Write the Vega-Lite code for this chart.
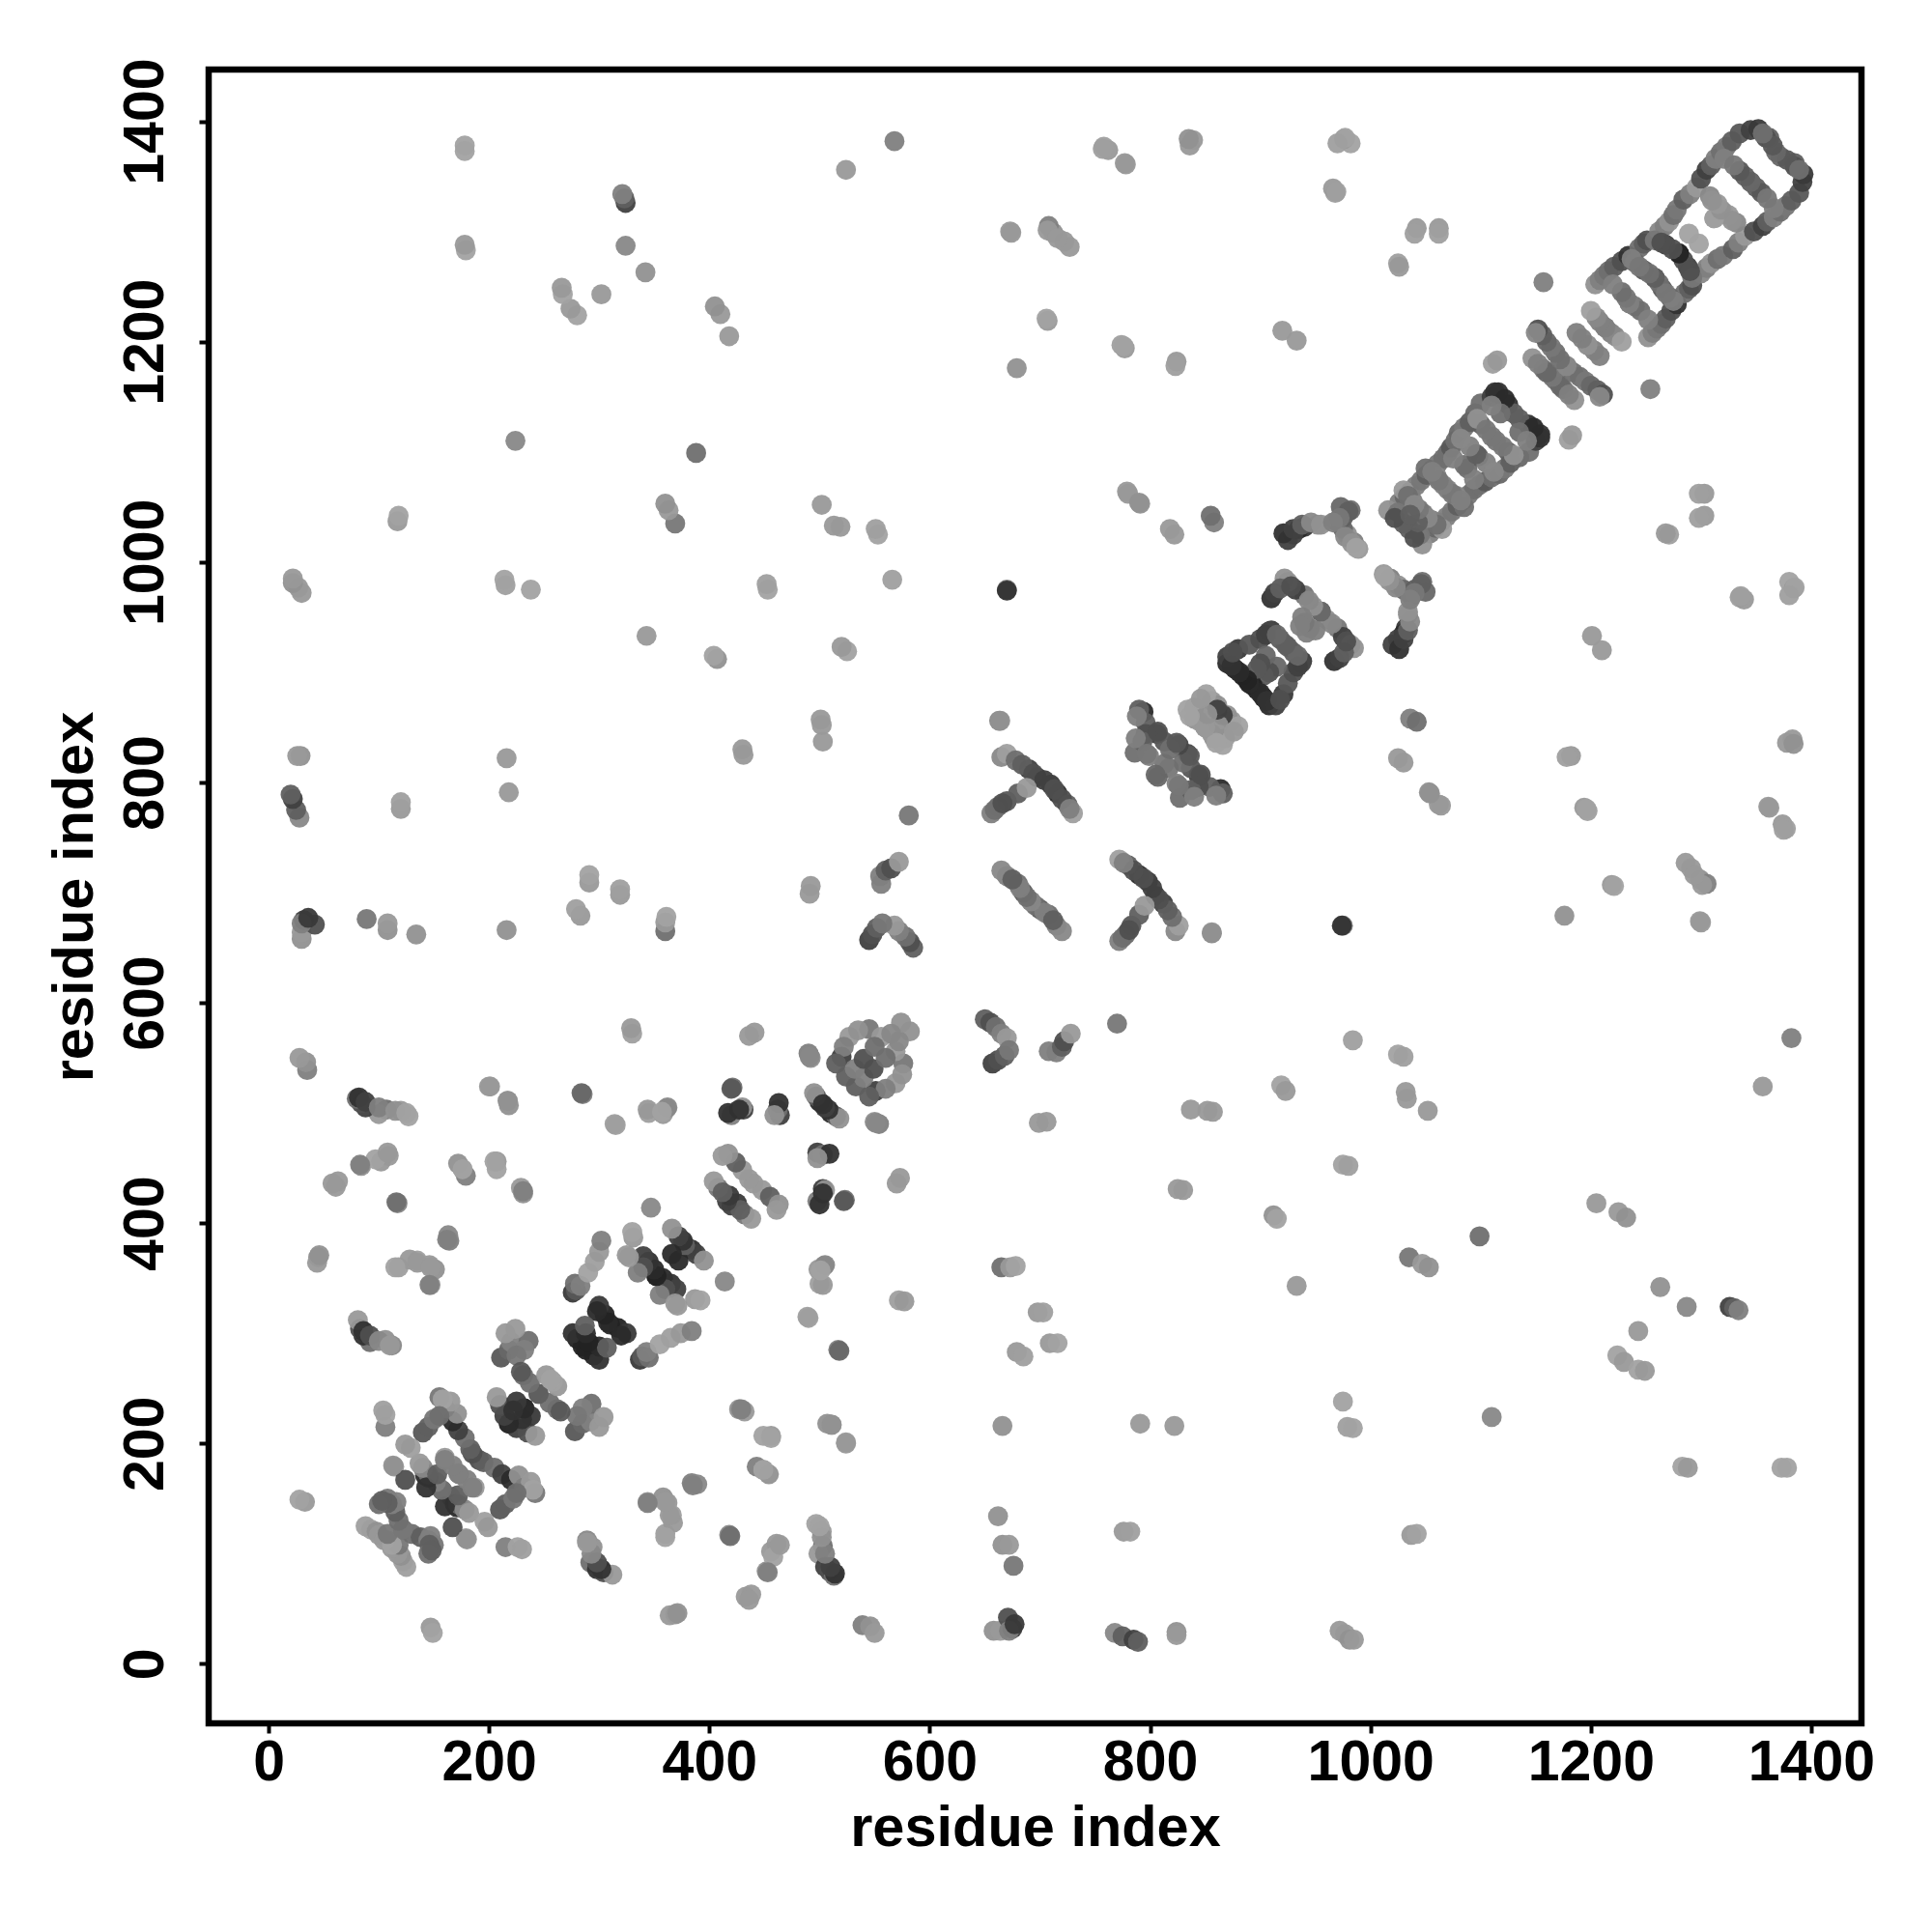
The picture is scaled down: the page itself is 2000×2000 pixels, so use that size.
{"$schema":"https://vega.github.io/schema/vega-lite/v6.json","autosize":{"type":"none"},"padding":{"left":216,"top":72,"right":73,"bottom":216},"width":1711,"height":1712,"background":"white","view":{"stroke":"#000","strokeWidth":6.5,"fill":"white"},
"data":{"values":[
{"a":1378,"b":178,"s":0.1},{"a":1373,"b":178,"s":0.1},{"a":1283,"b":179,"s":0.1},{"a":1288,"b":178,"s":0.15},{"a":1382,"b":568,"s":0.3},{"a":1356,"b":524,"s":0.15},{"a":1326,"b":324,"s":0.7},{"a":1330,"b":323,"s":0.5},{"a":1334,"b":321,"s":0.3},{"a":1287,"b":324,"s":0.25},{"a":1243,"b":302,"s":0.15},{"a":1224,"b":280,"s":0.1},{"a":1230,"b":274,"s":0.15},{"a":1243,"b":267,"s":0.1},{"a":1249,"b":266,"s":0.15},{"a":1263,"b":342,"s":0.2},{"a":1205,"b":418,"s":0.15},{"a":1225,"b":410,"s":0.15},{"a":1232,"b":405,"s":0.2},{"a":1099,"b":388,"s":0.4},{"a":1035,"b":369,"s":0.35},{"a":1047,"b":363,"s":0.15},{"a":1053,"b":360,"s":0.2},{"a":933,"b":343,"s":0.15},{"a":912,"b":407,"s":0.2},{"a":915,"b":404,"s":0.1},{"a":975,"b":453,"s":0.1},{"a":980,"b":452,"s":0.12},{"a":1032,"b":519,"s":0.15},{"a":1033,"b":513,"s":0.15},{"a":1052,"b":502,"s":0.15},{"a":1025,"b":553,"s":0.1},{"a":1030,"b":551,"s":0.12},{"a":984,"b":566,"s":0.12},{"a":919,"b":525,"s":0.1},{"a":923,"b":520,"s":0.15},{"a":975,"b":238,"s":0.1},{"a":979,"b":215,"s":0.12},{"a":984,"b":214,"s":0.1},{"a":1110,"b":224,"s":0.25},{"a":1037,"b":117,"s":0.15},{"a":1042,"b":118,"s":0.1},{"a":837,"b":503,"s":0.15},{"a":857,"b":501,"s":0.15},{"a":852,"b":502,"s":0.15},{"a":830,"b":430,"s":0.15},{"a":825,"b":431,"s":0.15},{"a":822,"b":216,"s":0.15},{"a":791,"b":218,"s":0.15},{"a":776,"b":120,"s":0.15},{"a":782,"b":120,"s":0.12},{"a":768,"b":28,"s":0.25},{"a":775,"b":25,"s":0.5},{"a":785,"b":22,"s":0.7},{"a":789,"b":20,"s":0.5},{"a":824,"b":29,"s":0.2},{"a":824,"b":26,"s":0.15},{"a":972,"b":30,"s":0.15},{"a":977,"b":27,"s":0.15},{"a":981,"b":22,"s":0.2},{"a":985,"b":22,"s":0.15},{"a":658,"b":30,"s":0.2},{"a":664,"b":30,"s":0.15},{"a":671,"b":42,"s":0.6},{"a":675,"b":32,"s":0.7},{"a":672,"b":30,"s":0.3},{"a":677,"b":36,"s":0.75},{"a":676,"b":89,"s":0.35},{"a":666,"b":108,"s":0.2},{"a":672,"b":108,"s":0.15},{"a":662,"b":134,"s":0.2},{"a":666,"b":216,"s":0.2},{"a":698,"b":319,"s":0.15},{"a":703,"b":319,"s":0.12},{"a":709,"b":291,"s":0.15},{"a":716,"b":291,"s":0.1},{"a":679,"b":283,"s":0.15},{"a":685,"b":279,"s":0.12},{"a":665,"b":360,"s":0.4},{"a":673,"b":360,"s":0.15},{"a":678,"b":361,"s":0.1},{"a":699,"b":491,"s":0.15},{"a":706,"b":492,"s":0.15},{"a":770,"b":581,"s":0.35},{"a":539,"b":35,"s":0.3},{"a":546,"b":34,"s":0.2},{"a":550,"b":28,"s":0.15},{"a":433,"b":61,"s":0.15},{"a":438,"b":63,"s":0.15},{"a":452,"b":84,"s":0.2},{"a":456,"b":102,"s":0.15},{"a":461,"b":109,"s":0.15},{"a":497,"b":127,"s":0.1},{"a":502,"b":120,"s":0.15},{"a":503,"b":107,"s":0.4},{"a":499,"b":100,"s":0.15},{"a":505,"b":88,"s":0.7},{"a":509,"b":84,"s":0.6},{"a":513,"b":80,"s":0.4},{"a":418,"b":117,"s":0.25},{"a":369,"b":45,"s":0.2},{"a":364,"b":44,"s":0.15},{"a":147,"b":33,"s":0.15},{"a":149,"b":28,"s":0.1},{"a":289,"b":112,"s":0.25},{"a":294,"b":106,"s":0.2},{"a":292,"b":92,"s":0.4},{"a":298,"b":86,"s":0.8},{"a":304,"b":83,"s":0.6},{"a":312,"b":81,"s":0.15},{"a":215,"b":106,"s":0.3},{"a":226,"b":106,"s":0.1},{"a":230,"b":104,"s":0.12},{"a":179,"b":114,"s":0.15},{"a":344,"b":147,"s":0.15},{"a":358,"b":151,"s":0.2},{"a":362,"b":146,"s":0.15},{"a":366,"b":135,"s":0.12},{"a":360,"b":118,"s":0.12},{"a":367,"b":128,"s":0.15},{"a":384,"b":164,"s":0.3},{"a":389,"b":163,"s":0.25},{"a":427,"b":231,"s":0.2},{"a":432,"b":229,"s":0.15},{"a":456,"b":207,"s":0.15},{"a":449,"b":207,"s":0.1},{"a":443,"b":179,"s":0.3},{"a":449,"b":176,"s":0.15},{"a":454,"b":172,"s":0.2},{"a":507,"b":218,"s":0.2},{"a":511,"b":217,"s":0.15},{"a":524,"b":201,"s":0.15},{"a":517,"b":285,"s":0.3},{"a":572,"b":330,"s":0.12},{"a":577,"b":329,"s":0.15},{"a":489,"b":315,"s":0.12},{"a":500,"b":345,"s":0.12},{"a":504,"b":361,"s":0.12},{"a":499,"b":358,"s":0.15},{"a":523,"b":421,"s":0.4},{"a":503,"b":431,"s":0.7},{"a":498,"b":420,"s":0.3},{"a":500,"b":417,"s":0.8},{"a":505,"b":430,"s":0.2},{"a":573,"b":441,"s":0.15},{"a":570,"b":436,"s":0.15},{"a":550,"b":492,"s":0.2},{"a":554,"b":490,"s":0.3},{"a":498,"b":464,"s":0.7},{"a":503,"b":462,"s":0.4},{"a":509,"b":463,"s":0.8},{"a":498,"b":459,"s":0.2},{"a":522,"b":420,"s":0.55},{"a":503,"b":427,"s":0.8},{"a":505,"b":362,"s":0.25},{"a":503,"b":344,"s":0.15},{"a":501,"b":357,"s":0.1},{"a":490,"b":314,"s":0.12},{"a":518,"b":284,"s":0.45},{"a":511,"b":217,"s":0.2},{"a":524,"b":200,"s":0.15},{"a":514,"b":82,"s":0.8},{"a":510,"b":88,"s":0.7},{"a":505,"b":100,"s":0.3},{"a":502,"b":115,"s":0.2},{"a":500,"b":125,"s":0.1},{"a":458,"b":97,"s":0.1},{"a":464,"b":108,"s":0.15},{"a":453,"b":83,"s":0.3},{"a":436,"b":58,"s":0.15},{"a":449,"b":176,"s":0.1},{"a":456,"b":205,"s":0.1},{"a":429,"b":231,"s":0.3},{"a":419,"b":116,"s":0.4},{"a":385,"b":162,"s":0.3},{"a":364,"b":135,"s":0.15},{"a":360,"b":147,"s":0.15},{"a":344,"b":146,"s":0.3},{"a":360,"b":115,"s":0.1},{"a":371,"b":46,"s":0.2},{"a":302,"b":86,"s":0.8},{"a":298,"b":92,"s":0.6},{"a":293,"b":100,"s":0.25},{"a":289,"b":110,"s":0.15},{"a":125,"b":88,"s":0.12},{"a":122,"b":93,"s":0.12},{"a":120,"b":98,"s":0.2},{"a":117,"b":100,"s":0.15},{"a":112,"b":105,"s":0.15},{"a":108,"b":112,"s":0.1},{"a":118,"b":108,"s":0.35},{"a":122,"b":122,"s":0.35},{"a":130,"b":118,"s":0.4},{"a":138,"b":115,"s":0.5},{"a":145,"b":112,"s":0.3},{"a":150,"b":108,"s":0.35},{"a":147,"b":116,"s":0.3},{"a":146,"b":108,"s":0.5},{"a":145,"b":100,"s":0.4},{"a":148,"b":103,"s":0.5},{"a":167,"b":124,"s":0.6},{"a":180,"b":113,"s":0.2},{"a":158,"b":157,"s":0.4},{"a":165,"b":152,"s":0.3},{"a":171,"b":142,"s":0.85},{"a":169,"b":145,"s":0.8},{"a":172,"b":145,"s":0.4},{"a":178,"b":140,"s":0.25},{"a":182,"b":137,"s":0.15},{"a":160,"b":143,"s":0.8},{"a":172,"b":153,"s":0.5},{"a":173,"b":172,"s":0.3},{"a":180,"b":167,"s":0.3},{"a":187,"b":160,"s":0.15},{"a":185,"b":160,"s":0.3},{"a":191,"b":185,"s":0.6},{"a":195,"b":183,"s":0.5},{"a":205,"b":178,"s":0.4},{"a":212,"b":172,"s":0.7},{"a":220,"b":167,"s":0.85},{"a":227,"b":171,"s":0.2},{"a":232,"b":160,"s":0.3},{"a":238,"b":165,"s":0.15},{"a":242,"b":155,"s":0.35},{"a":240,"b":158,"s":0.1},{"a":210,"b":140,"s":0.55},{"a":215,"b":145,"s":0.5},{"a":222,"b":150,"s":0.35},{"a":225,"b":155,"s":0.4},{"a":196,"b":129,"s":0.12},{"a":199,"b":124,"s":0.15},{"a":278,"b":211,"s":0.55},{"a":285,"b":218,"s":0.45},{"a":292,"b":220,"s":0.3},{"a":300,"b":215,"s":0.15},{"a":293,"b":236,"s":0.4},{"a":304,"b":224,"s":0.15},{"a":285,"b":232,"s":0.3},{"a":280,"b":225,"s":0.35},{"a":218,"b":218,"s":0.85},{"a":225,"b":214,"s":0.7},{"a":235,"b":210,"s":0.6},{"a":242,"b":207,"s":0.15},{"a":245,"b":245,"s":0.5},{"a":255,"b":237,"s":0.4},{"a":262,"b":231,"s":0.4},{"a":265,"b":229,"s":0.55},{"a":232,"b":232,"s":0.85},{"a":238,"b":225,"s":0.75},{"a":230,"b":222,"s":0.8},{"a":262,"b":252,"s":0.15},{"a":258,"b":256,"s":0.1},{"a":310,"b":308,"s":0.85},{"a":317,"b":305,"s":0.9},{"a":325,"b":300,"s":0.75},{"a":320,"b":298,"s":0.85},{"a":288,"b":285,"s":0.9},{"a":295,"b":280,"s":0.9},{"a":300,"b":276,"s":0.8},{"a":292,"b":290,"s":0.9},{"a":300,"b":288,"s":0.85},{"a":307,"b":287,"s":0.5},{"a":337,"b":276,"s":0.75},{"a":339,"b":279,"s":0.55},{"a":345,"b":278,"s":0.4},{"a":343,"b":283,"s":0.3},{"a":355,"b":290,"s":0.1},{"a":365,"b":296,"s":0.12},{"a":374,"b":300,"s":0.15},{"a":384,"b":302,"s":0.3},{"a":352,"b":352,"s":0.9},{"a":358,"b":350,"s":0.85},{"a":365,"b":345,"s":0.8},{"a":370,"b":340,"s":0.7},{"a":360,"b":340,"s":0.6},{"a":355,"b":335,"s":0.3},{"a":380,"b":378,"s":0.5},{"a":384,"b":376,"s":0.8},{"a":388,"b":372,"s":0.7},{"a":395,"b":366,"s":0.2},{"a":372,"b":366,"s":0.85},{"a":387,"b":331,"s":0.15},{"a":369,"b":327,"s":0.15},{"a":392,"b":330,"s":0.1},{"a":371,"b":325,"s":0.15},{"a":414,"b":347,"s":0.25},{"a":440,"b":436,"s":0.15},{"a":448,"b":430,"s":0.15},{"a":455,"b":424,"s":0.5},{"a":463,"b":417,"s":0.2},{"a":461,"b":412,"s":0.15},{"a":420,"b":416,"s":0.7},{"a":425,"b":418,"s":0.75},{"a":432,"b":408,"s":0.35},{"a":438,"b":404,"s":0.15},{"a":428,"b":412,"s":0.5},{"a":505,"b":505,"s":0.7},{"a":510,"b":500,"s":0.85},{"a":515,"b":497,"s":0.5},{"a":518,"b":495,"s":0.2},{"a":508,"b":503,"s":0.8},{"a":576,"b":545,"s":0.35},{"a":569,"b":527,"s":0.15},{"a":575,"b":535,"s":0.2},{"a":551,"b":520,"s":0.7},{"a":560,"b":522,"s":0.3},{"a":545,"b":515,"s":0.5},{"a":533,"b":524,"s":0.5},{"a":540,"b":532,"s":0.3},{"a":549,"b":540,"s":0.6},{"a":569,"b":556,"s":0.15},{"a":560,"b":550,"s":0.4},{"a":582,"b":574,"s":0.2},{"a":572,"b":565,"s":0.25},{"a":551,"b":491,"s":0.25},{"a":650,"b":585,"s":0.5},{"a":655,"b":582,"s":0.6},{"a":660,"b":578,"s":0.4},{"a":665,"b":572,"s":0.3},{"a":670,"b":568,"s":0.15},{"a":657,"b":545,"s":0.7},{"a":662,"b":548,"s":0.6},{"a":668,"b":552,"s":0.5},{"a":672,"b":557,"s":0.35},{"a":708,"b":556,"s":0.3},{"a":715,"b":555,"s":0.3},{"a":720,"b":560,"s":0.5},{"a":722,"b":565,"s":0.6},{"a":728,"b":572,"s":0.15},{"a":823,"b":665,"s":0.25},{"a":856,"b":663,"s":0.25},{"a":975,"b":670,"s":0.3},{"a":974,"b":670,"s":0.8},{"a":856,"b":664,"s":0.2},{"a":826,"b":670,"s":0.12},{"a":820,"b":678,"s":0.4},{"a":812,"b":690,"s":0.7},{"a":805,"b":697,"s":0.8},{"a":798,"b":710,"s":0.75},{"a":790,"b":716,"s":0.85},{"a":780,"b":725,"s":0.5},{"a":772,"b":730,"s":0.12},{"a":816,"b":684,"s":0.5},{"a":808,"b":694,"s":0.6},{"a":802,"b":704,"s":0.7},{"a":794,"b":713,"s":0.6},{"a":785,"b":720,"s":0.6},{"a":776,"b":727,"s":0.3},{"a":772,"b":656,"s":0.3},{"a":778,"b":662,"s":0.4},{"a":783,"b":670,"s":0.55},{"a":790,"b":680,"s":0.5},{"a":795,"b":688,"s":0.15},{"a":775,"b":659,"s":0.4},{"a":781,"b":666,"s":0.6},{"a":692,"b":692,"s":0.25},{"a":700,"b":685,"s":0.55},{"a":708,"b":680,"s":0.4},{"a":715,"b":670,"s":0.3},{"a":720,"b":665,"s":0.25},{"a":696,"b":688,"s":0.4},{"a":704,"b":682,"s":0.3},{"a":712,"b":675,"s":0.5},{"a":864,"b":794,"s":0.85},{"a":854,"b":796,"s":0.5},{"a":844,"b":806,"s":0.7},{"a":837,"b":813,"s":0.55},{"a":834,"b":826,"s":0.65},{"a":844,"b":796,"s":0.6},{"a":827,"b":786,"s":0.4},{"a":837,"b":793,"s":0.5},{"a":817,"b":813,"s":0.35},{"a":824,"b":799,"s":0.3},{"a":830,"b":818,"s":0.4},{"a":866,"b":790,"s":0.5},{"a":860,"b":788,"s":0.3},{"a":846,"b":807,"s":0.6},{"a":840,"b":787,"s":0.3},{"a":836,"b":824,"s":0.55},{"a":826,"b":797,"s":0.35},{"a":807,"b":805,"s":0.45},{"a":874,"b":856,"s":0.15},{"a":868,"b":840,"s":0.12},{"a":858,"b":840,"s":0.2},{"a":870,"b":861,"s":0.2},{"a":880,"b":851,"s":0.1},{"a":866,"b":834,"s":0.1},{"a":856,"b":844,"s":0.15},{"a":850,"b":850,"s":0.15},{"a":866,"b":861,"s":0.7},{"a":862,"b":852,"s":0.2},{"a":876,"b":846,"s":0.15},{"a":860,"b":836,"s":0.1},{"a":890,"b":890,"s":0.85},{"a":897,"b":884,"s":0.9},{"a":903,"b":877,"s":0.9},{"a":908,"b":870,"s":0.85},{"a":914,"b":870,"s":0.7},{"a":921,"b":880,"s":0.75},{"a":925,"b":890,"s":0.55},{"a":930,"b":900,"s":0.6},{"a":938,"b":910,"s":0.75},{"a":937,"b":908,"s":0.65},{"a":930,"b":918,"s":0.5},{"a":925,"b":923,"s":0.5},{"a":915,"b":905,"s":0.45},{"a":908,"b":900,"s":0.6},{"a":903,"b":897,"s":0.55},{"a":893,"b":888,"s":0.9},{"a":900,"b":881,"s":0.85},{"a":906,"b":874,"s":0.8},{"a":918,"b":875,"s":0.6},{"a":934,"b":905,"s":0.7},{"a":934,"b":915,"s":0.45},{"a":955,"b":955,"s":0.45},{"a":960,"b":948,"s":0.2},{"a":970,"b":940,"s":0.35},{"a":975,"b":932,"s":0.7},{"a":982,"b":925,"s":0.15},{"a":985,"b":922,"s":0.2},{"a":967,"b":910,"s":0.8},{"a":972,"b":913,"s":0.7},{"a":976,"b":918,"s":0.5},{"a":978,"b":928,"s":0.6},{"a":965,"b":944,"s":0.25},{"a":945,"b":940,"s":0.35},{"a":950,"b":938,"s":0.3},{"a":942,"b":936,"s":0.3},{"a":1012,"b":989,"s":0.15},{"a":1018,"b":985,"s":0.3},{"a":1025,"b":979,"s":0.2},{"a":1030,"b":975,"s":0.45},{"a":1037,"b":969,"s":0.5},{"a":1047,"b":982,"s":0.4},{"a":1040,"b":975,"s":0.5},{"a":1034,"b":952,"s":0.2},{"a":1032,"b":940,"s":0.75},{"a":1030,"b":935,"s":0.85},{"a":1025,"b":930,"s":0.7},{"a":1020,"b":925,"s":0.7},{"a":1026,"b":921,"s":0.8},{"a":1030,"b":930,"s":0.7},{"a":1034,"b":938,"s":0.5},{"a":1036,"b":946,"s":0.25},{"a":1034,"b":955,"s":0.2},{"a":1050,"b":973,"s":0.45},{"a":1046,"b":980,"s":0.5},{"a":1040,"b":972,"s":0.35},{"a":1036,"b":966,"s":0.3},{"a":1023,"b":977,"s":0.25},{"a":1017,"b":983,"s":0.2},{"a":1013,"b":987,"s":0.1},{"a":1054,"b":1026,"s":0.3},{"a":1059,"b":1031,"s":0.45},{"a":1064,"b":1036,"s":0.4},{"a":1069,"b":1041,"s":0.3},{"a":1074,"b":1046,"s":0.35},{"a":1079,"b":1051,"s":0.5},{"a":1084,"b":1056,"s":0.45},{"a":1089,"b":1061,"s":0.35},{"a":1094,"b":1066,"s":0.4},{"a":1099,"b":1070,"s":0.4},{"a":1104,"b":1073,"s":0.55},{"a":1110,"b":1077,"s":0.4},{"a":1117,"b":1080,"s":0.45},{"a":1122,"b":1085,"s":0.35},{"a":1127,"b":1090,"s":0.5},{"a":1135,"b":1095,"s":0.45},{"a":1144,"b":1100,"s":0.4},{"a":1150,"b":1110,"s":0.7},{"a":1154,"b":1113,"s":0.8},{"a":1143,"b":1125,"s":0.8},{"a":1135,"b":1130,"s":0.5},{"a":1154,"b":1116,"s":0.8},{"a":1148,"b":1122,"s":0.85},{"a":1047,"b":1016,"s":0.2},{"a":1035,"b":1030,"s":0.5},{"a":1045,"b":1025,"s":0.35},{"a":1040,"b":1022,"s":0.6},{"a":1048,"b":1044,"s":0.35},{"a":1056,"b":1038,"s":0.3},{"a":1065,"b":1030,"s":0.15},{"a":1060,"b":1034,"s":0.4},{"a":1052,"b":1040,"s":0.25},{"a":1043,"b":1036,"s":0.5},{"a":1070,"b":1066,"s":0.3},{"a":1078,"b":1060,"s":0.25},{"a":1085,"b":1050,"s":0.4},{"a":1074,"b":1062,"s":0.35},{"a":1082,"b":1056,"s":0.3},{"a":1088,"b":1085,"s":0.4},{"a":1094,"b":1075,"s":0.3},{"a":1098,"b":1096,"s":0.5},{"a":1105,"b":1090,"s":0.3},{"a":1112,"b":1082,"s":0.25},{"a":1114,"b":1110,"s":0.35},{"a":1125,"b":1100,"s":0.5},{"a":1130,"b":1097,"s":0.2},{"a":1120,"b":1105,"s":0.35},{"a":1135,"b":1118,"s":0.4},{"a":1142,"b":1110,"s":0.3},{"a":1180,"b":1111,"s":0.12},{"a":1183,"b":1115,"s":0.15},{"a":1254,"b":1157,"s":0.3},{"a":1168,"b":1165,"s":0.35},{"a":1175,"b":1157,"s":0.4},{"a":1185,"b":1147,"s":0.2},{"a":1172,"b":1160,"s":0.45},{"a":1180,"b":1152,"s":0.3},{"a":1178,"b":1178,"s":0.25},{"a":1184,"b":1172,"s":0.4},{"a":1190,"b":1168,"s":0.4},{"a":1195,"b":1164,"s":0.35},{"a":1200,"b":1160,"s":0.45},{"a":1206,"b":1156,"s":0.5},{"a":1211,"b":1152,"s":0.6},{"a":1208,"b":1150,"s":0.25},{"a":1197,"b":1197,"s":0.2},{"a":1203,"b":1192,"s":0.3},{"a":1208,"b":1187,"s":0.3},{"a":1213,"b":1213,"s":0.3},{"a":1218,"b":1208,"s":0.3},{"a":1222,"b":1205,"s":0.25},{"a":1228,"b":1200,"s":0.12},{"a":1252,"b":1204,"s":0.2},{"a":1256,"b":1208,"s":0.3},{"a":1260,"b":1212,"s":0.35},{"a":1264,"b":1216,"s":0.4},{"a":1268,"b":1221,"s":0.5},{"a":1273,"b":1228,"s":0.6},{"a":1278,"b":1234,"s":0.8},{"a":1285,"b":1244,"s":0.4},{"a":1289,"b":1248,"s":0.5},{"a":1292,"b":1251,"s":0.6},{"a":1300,"b":1262,"s":0.25},{"a":1305,"b":1267,"s":0.3},{"a":1309,"b":1271,"s":0.2},{"a":1315,"b":1275,"s":0.4},{"a":1320,"b":1278,"s":0.35},{"a":1329,"b":1284,"s":0.5},{"a":1334,"b":1290,"s":0.3},{"a":1340,"b":1296,"s":0.15},{"a":1348,"b":1300,"s":0.6},{"a":1356,"b":1305,"s":0.7},{"a":1360,"b":1309,"s":0.5},{"a":1366,"b":1313,"s":0.3},{"a":1372,"b":1318,"s":0.4},{"a":1377,"b":1323,"s":0.35},{"a":1382,"b":1328,"s":0.5},{"a":1389,"b":1335,"s":0.55},{"a":1392,"b":1345,"s":0.7},{"a":1393,"b":1352,"s":0.75},{"a":1385,"b":1362,"s":0.5},{"a":1372,"b":1368,"s":0.45},{"a":1385,"b":1359,"s":0.6},{"a":1378,"b":1365,"s":0.55},{"a":1389,"b":1356,"s":0.4},{"a":1258,"b":1258,"s":0.5},{"a":1265,"b":1248,"s":0.55},{"a":1272,"b":1240,"s":0.45},{"a":1275,"b":1237,"s":0.3},{"a":1262,"b":1253,"s":0.4},{"a":1268,"b":1244,"s":0.35},{"a":1235,"b":1235,"s":0.3},{"a":1240,"b":1232,"s":0.35},{"a":1245,"b":1228,"s":0.4},{"a":1252,"b":1220,"s":0.3},{"a":1280,"b":1280,"s":0.9},{"a":1288,"b":1268,"s":0.7},{"a":1292,"b":1258,"s":0.35},{"a":1284,"b":1274,"s":0.6},{"a":1290,"b":1264,"s":0.6},{"a":1298,"b":1289,"s":0.1},{"a":1312,"b":1312,"s":0.12},{"a":1320,"b":1318,"s":0.2},{"a":1332,"b":1308,"s":0.25},{"a":1325,"b":1315,"s":0.15},{"a":1328,"b":1310,"s":0.2},{"a":1345,"b":1345,"s":0.45},{"a":1350,"b":1340,"s":0.5},{"a":1355,"b":1335,"s":0.55},{"a":1366,"b":1321,"s":0.3},{"a":1360,"b":1330,"s":0.35},{"a":1383,"b":839,"s":0.15},{"a":1378,"b":836,"s":0.15},{"a":1335,"b":968,"s":0.12},{"a":1339,"b":966,"s":0.15},{"a":1380,"b":982,"s":0.1},{"a":1384,"b":976,"s":0.15},{"a":1201,"b":933,"s":0.15},{"a":1210,"b":920,"s":0.15},{"a":1271,"b":1025,"s":0.12},{"a":1268,"b":1026,"s":0.15},{"a":1303,"b":1062,"s":0.15},{"a":1298,"b":1062,"s":0.12},{"a":1303,"b":1042,"s":0.15},{"a":1298,"b":1040,"s":0.12},{"a":1361,"b":778,"s":0.15},{"a":1374,"b":762,"s":0.15},{"a":1377,"b":758,"s":0.12},{"a":1182,"b":824,"s":0.15},{"a":1178,"b":823,"s":0.12},{"a":1194,"b":777,"s":0.15},{"a":1197,"b":774,"s":0.12},{"a":1219,"b":707,"s":0.15},{"a":1176,"b":679,"s":0.2},{"a":1286,"b":727,"s":0.15},{"a":1291,"b":722,"s":0.15},{"a":1299,"b":712,"s":0.2},{"a":1305,"b":708,"s":0.3},{"a":1299,"b":674,"s":0.15},{"a":1036,"b":858,"s":0.3},{"a":1042,"b":855,"s":0.4},{"a":1025,"b":822,"s":0.15},{"a":1030,"b":818,"s":0.15},{"a":1053,"b":791,"s":0.2},{"a":1062,"b":780,"s":0.15},{"a":1385,"b":977,"s":0.1},{"a":1380,"b":970,"s":0.12},{"a":1336,"b":969,"s":0.12},{"a":1375,"b":757,"s":0.12},{"a":1362,"b":777,"s":0.15},{"a":1384,"b":835,"s":0.2},{"a":1300,"b":673,"s":0.15},{"a":1301,"b":707,"s":0.15},{"a":1294,"b":716,"s":0.15},{"a":1221,"b":706,"s":0.1},{"a":1196,"b":776,"s":0.1},{"a":1064,"b":779,"s":0.15},{"a":1054,"b":790,"s":0.2}
]},
"encoding":{"color":{"field":"s","type":"quantitative","scale":{"domain":[0,1],"range":["#b4b4b4","#161616"]},"legend":null}},
"layer":[
{"mark":{"type":"circle","size":430,"opacity":0.95},"encoding":{"x":{"field":"a","type":"quantitative","scale":{"domain":[-54.4,1445.6],"nice":false,"zero":false},"axis":{"title":"residue index","values":[0,200,400,600,800,1000,1200,1400],"grid":false,"domain":false,"tickColor":"#000","tickWidth":4,"tickSize":10,"labelFont":"Liberation Sans","labelFontWeight":"bold","labelFontSize":59,"labelColor":"#000","labelOverlap":false,"labelFlush":false,"labelBound":false,"labelPadding":1,"format":"d","titleFont":"Liberation Sans","titleFontWeight":"bold","titleFontSize":59.5,"titleColor":"#000","titlePadding":9}},"y":{"field":"b","type":"quantitative","scale":{"domain":[-54,1447],"nice":false,"zero":false},"axis":{"title":"residue index","values":[0,200,400,600,800,1000,1200,1400],"grid":false,"domain":false,"tickColor":"#000","tickWidth":4,"tickSize":10,"labelFont":"Liberation Sans","labelFontWeight":"bold","labelFontSize":59,"labelColor":"#000","labelOverlap":false,"labelFlush":false,"labelBound":false,"labelAngle":270,"labelAlign":"center","labelBaseline":"bottom","labelPadding":26,"format":"d","titleFont":"Liberation Sans","titleFontWeight":"bold","titleFontSize":59.5,"titleColor":"#000","titlePadding":14}}}},
{"mark":{"type":"circle","size":430,"opacity":0.95},"encoding":{"x":{"field":"b","type":"quantitative"},"y":{"field":"a","type":"quantitative"}}}
]}
